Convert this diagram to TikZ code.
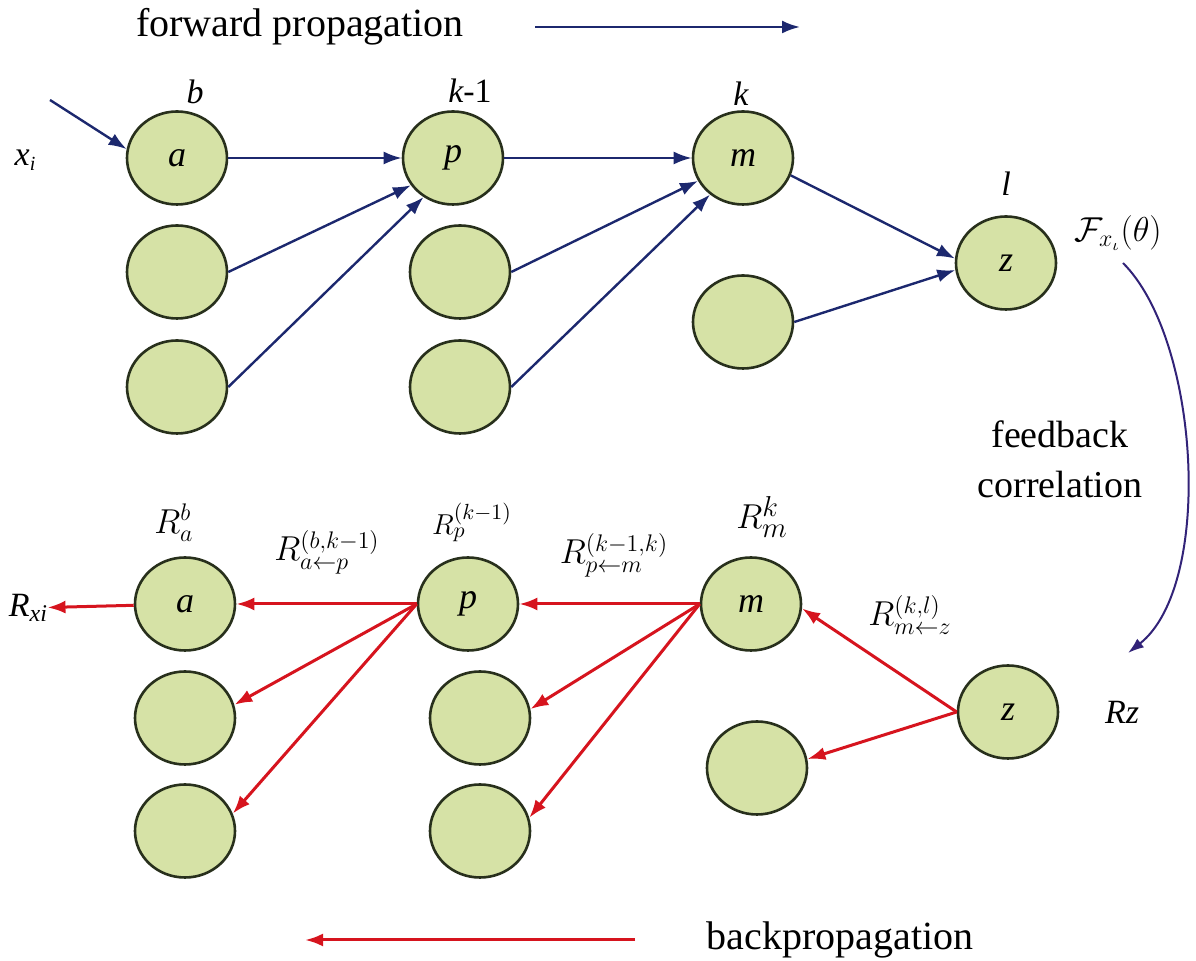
\documentclass[tikz,border=0pt]{standalone}
\usepackage{fontspec}
\setmainfont{Liberation Serif}
\usetikzlibrary{arrows.meta,shapes.geometric}
\definecolor{nodefill}{RGB}{214,226,166}
\definecolor{nodedraw}{RGB}{40,48,28}
\definecolor{fwd}{RGB}{28,40,110}
\definecolor{bwd}{RGB}{214,20,30}
\definecolor{fbc}{RGB}{50,35,120}
\begin{document}
\begin{tikzpicture}[x=0.5pt,y=-0.5pt,
 neuron/.style={ellipse, fill=nodefill, draw=nodedraw, line width=1.3pt, minimum width=50pt, minimum height=46.5pt, inner sep=0pt, font=\fontsize{18}{20}\selectfont\itshape},
 fa/.style={draw=fwd, line width=1.2pt, -{Latex[length=9pt,width=6.5pt]}},
 ba/.style={draw=bwd, line width=1.5pt, -{Latex[length=9pt,width=6.5pt]}},
 lab/.style={font=\fontsize{17}{20}\selectfont\itshape, inner sep=0pt},
 rlab/.style={font=\fontsize{17}{20}\selectfont, inner sep=0pt},
 big/.style={font=\fontsize{20}{24}\selectfont, inner sep=0pt}]
\useasboundingbox (0,0) rectangle (1196,961);
% top row
\node[neuron] (ta) at (177,158) {a};
\node[neuron] (t12) at (177,272) {};
\node[neuron] (t13) at (177,387) {};
\node[neuron] (tp) at (453,158) {p};
\node[neuron] (t22) at (460,272) {};
\node[neuron] (t23) at (460,387) {};
\node[neuron] (tm) at (743,158) {m};
\node[neuron] (t32) at (743,322) {};
\node[neuron] (tz) at (1006,263) {z};
\node[lab] (lb) at (195,92) {b};
\node[lab] (lk1) at (470,91) {k\upshape-1};
\node[lab] (lk) at (741,94) {k};
\node[lab] (ll) at (1006,184) {l};
\node[lab] (xi) at (25,160) {x\raisebox{-0.35ex}{\fontsize{10}{12}\selectfont i}};
\node[rlab] (fth) at (1118,233) {$\mathcal{F}_{x_\iota}(\theta)$};
\node[big] (fwdt) at (300,27) {forward propagation};
\coordinate (fw1) at (535,27);
\coordinate (fw2) at (800,27);
\coordinate (xin) at (50,100);
\draw[fa] (fw1) -- (fw2);
\draw[fa] (xin) -- (ta.170);
\draw[fa] (ta) -- (tp);
\draw[fa] (t12.east) -- (tp.213);
\draw[fa] (t13.east) -- (tp.233);
\draw[fa] (tp) -- (tm);
\draw[fa] (t22.east) -- (tm.207);
\draw[fa] (t23.east) -- (tm.228);
\draw[fa] (tm.-20) -- (tz.175);
\draw[fa] (t32.east) -- (tz.188);
% feedback
\node[font=\fontsize{19}{23}\selectfont, align=center, inner sep=0pt] (fbt) at (1060,459) {feedback\\[2pt]correlation};
\coordinate (fbs) at (1123,263);
\coordinate (fbe) at (1128,653);
\draw[fbc, line width=1pt, -{Latex[length=8pt,width=5.5pt]}] (fbs) .. controls (1200,340) and (1214,585) .. (fbe);
% bottom row
\node[neuron] (ba) at (185,604) {a};
\node[neuron] (b12) at (185,718) {};
\node[neuron] (b13) at (185,831) {};
\node[neuron] (bp) at (468,604) {p};
\node[neuron] (b22) at (480,718) {};
\node[neuron] (b23) at (480,831) {};
\node[neuron] (bm) at (751,604) {m};
\node[neuron] (b32) at (757,768) {};
\node[neuron] (bz) at (1008,712) {z};
\node[rlab, font=\fontsize{18}{21}\selectfont] (rab) at (174,523) {$R_a^b$};
\node[rlab] (rap) at (327,552) {$R^{(b,k-1)}_{a\leftarrow p}$};
\node[rlab, font=\fontsize{15}{18}\selectfont] (rp) at (472,522) {$R_p^{(k-1)}$};
\node[rlab] (rpm) at (614,555) {$R^{(k-1,k)}_{p\leftarrow m}$};
\node[rlab, font=\fontsize{19}{22}\selectfont] (rm) at (762,517) {$R_m^k$};
\node[rlab] (rmz) at (910,615) {$R^{(k,l)}_{m\leftarrow z}$};
\node[lab] (rxi) at (28,608) {R\raisebox{-0.35ex}{\fontsize{12}{14}\selectfont xi}};
\node[lab] (rz) at (1122,712) {Rz};
\node[big] (bpt) at (840,940) {backpropagation};
\coordinate (bp1) at (635,940);
\coordinate (bp2) at (305,940);
\draw[ba] (bp1) -- (bp2);
\draw[ba] (ba) -- (rxi);
\draw[ba] (bp.west) -- (ba.east);
\draw[ba] (bp.west) -- (b12.15);
\draw[ba] (bp.west) -- (b13.20);
\draw[ba] (bm.west) -- (bp.east);
\draw[ba] (bm.west) -- (b22.10);
\draw[ba] (bm.west) -- (b23.15);
\draw[ba] (bz.west) -- (bm.-5);
\draw[ba] (bz.west) -- (b32.10);
\end{tikzpicture}
\end{document}
